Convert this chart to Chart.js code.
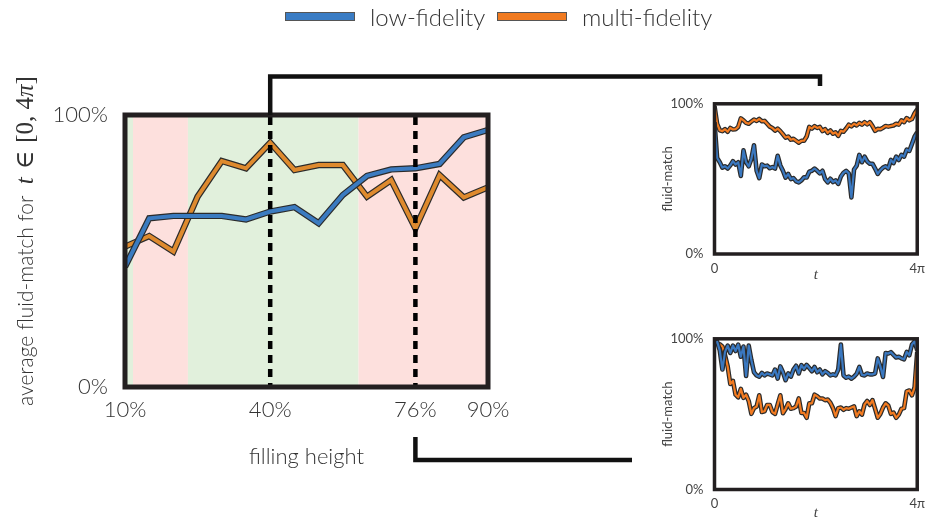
<!DOCTYPE html>
<html>
<head>
<meta charset="utf-8">
<title>fluid-match vs filling height</title>
<script src="https://cdn.jsdelivr.net/npm/chart.js@4.4.0/dist/chart.umd.min.js"></script>
<style>
  body { margin: 0; background: #fff; }
  #figure { position: relative; width: 932px; height: 523px; overflow: hidden; }
  #figure canvas { position: absolute; }
  #mainChart { left: 0; top: 0; }
  #topInset { left: 640px; top: 85px; }
  #bottomInset { left: 640px; top: 320px; }
  .legend-item { position: absolute; top: 0; height: 32px; display: flex; align-items: center;
    font-family: Lato, "Open Sans", sans-serif; font-weight: 300; font-size: 24px; color: #333; }
  .legend-item .swatch { width: 68px; height: 7px; border: 1px solid #555; margin-right: 15px; }
</style>
</head>
<body>
<div id="figure">
  <canvas id="mainChart" width="932" height="523"></canvas>
  <canvas id="topInset" width="292" height="200"></canvas>
  <canvas id="bottomInset" width="292" height="203"></canvas>
  <div id="legend"></div>
</div>

<script>
// average fluid-match per filling height (16 heights, index 0 = 10%)
const lowFidAvg   = [44.2, 62.0, 62.9, 62.9, 62.9, 61.6, 64.5, 66.1, 60.2, 70.6, 77.6, 80.0, 80.4, 82.0, 91.8, 94.5];
const multiFidAvg = [51.6, 55.5, 49.8, 70.0, 83.1, 80.4, 89.8, 79.8, 81.6, 81.6, 70.0, 76.1, 58.3, 77.9, 69.7, 73.4];
const heightTickPos    = [0, 6, 12, 15];
const heightTickLabels = ['10%', '40%', '76%', '90%'];
const markedHeights    = [6, 12];   // 40% and 76%, shown in the insets

// good / bad regions along the height axis
const bandEdges = [0, 0.33, 2.6, 9.65, 15];
const bandGood  = [true, false, true, false];

// fluid-match over t in [0, 4pi] at 40% filling height
const topLow = [
  87.8, 63.9, 61.1, 57.5, 58.4, 56.9, 59.0, 61.8, 59.6, 61.1,
  52.0, 69.0, 61.1, 58.4, 63.3, 72.4, 55.4, 50.5, 59.6, 58.4,
  58.8, 57.1, 57.9, 56.9, 65.4, 59.0, 55.4, 50.9, 53.3, 49.9,
  50.5, 48.4, 47.7, 49.0, 51.1, 50.9, 54.8, 55.4, 56.9, 55.4,
  53.7, 55.4, 49.9, 47.7, 50.1, 47.9, 49.0, 46.7, 51.6, 54.1,
  55.4, 53.7, 37.7, 56.2, 58.8, 66.0, 61.1, 64.8, 61.6, 60.1,
  60.1, 56.9, 53.3, 55.8, 57.5, 58.4, 56.9, 62.6, 60.5, 64.8,
  62.6, 66.0, 64.8, 69.5, 68.6, 73.3, 78.2, 81.0
];
const topMulti = [
  98.4, 86.7, 82.4, 81.8, 83.1, 81.4, 83.9, 82.9, 83.1, 84.6,
  90.3, 89.0, 87.3, 86.7, 88.2, 89.5, 88.6, 89.9, 88.4, 88.6,
  86.7, 84.8, 83.9, 82.2, 83.5, 81.8, 79.7, 77.5, 78.2, 76.1,
  76.7, 75.4, 74.1, 75.4, 75.4, 78.2, 84.6, 83.5, 85.2, 83.9,
  84.6, 81.8, 83.1, 80.7, 82.2, 80.1, 81.0, 78.6, 82.0, 81.4,
  83.5, 86.1, 85.0, 86.7, 85.6, 87.3, 86.1, 87.8, 86.3, 87.8,
  85.2, 82.0, 83.3, 83.1, 84.1, 85.2, 84.8, 85.2, 85.6, 86.7,
  86.1, 89.0, 87.8, 90.5, 89.0, 89.9, 93.7, 96.3
];

// fluid-match over t in [0, 4pi] at 76% filling height
const bottomLow = [
  97.4, 98.1, 92.3, 79.6, 91.3, 95.5, 90.6, 95.5, 91.9, 96.2,
  88.1, 94.9, 75.3, 95.5, 85.9, 77.8, 75.7, 74.9, 77.4, 75.7,
  77.0, 76.4, 75.7, 79.6, 73.6, 81.7, 77.8, 72.5, 77.0, 74.9,
  79.6, 82.1, 77.0, 82.5, 80.0, 82.7, 80.6, 78.5, 81.3, 77.8,
  79.6, 76.4, 78.5, 77.4, 75.7, 76.4, 75.7, 79.6, 96.2, 75.7,
  74.2, 74.9, 73.6, 74.9, 76.8, 81.3, 76.1, 75.7, 77.0, 76.4,
  76.4, 77.0, 87.0, 81.7, 74.7, 90.6, 90.2, 91.1, 89.3, 87.6,
  88.1, 87.0, 86.4, 91.3, 89.1, 96.2, 98.3, 92.3
];
const bottomMulti = [
  97.0, 96.6, 96.4, 94.9, 89.1, 81.7, 70.0, 72.1, 62.9, 61.2,
  66.8, 60.8, 62.9, 58.7, 50.2, 54.0, 55.1, 62.5, 51.4, 51.9,
  56.1, 56.1, 51.4, 50.2, 56.5, 62.5, 50.6, 53.4, 57.2, 53.6,
  54.0, 55.1, 60.4, 50.8, 50.8, 47.6, 57.2, 57.2, 62.9, 61.9,
  60.4, 60.4, 59.3, 59.7, 57.6, 54.0, 48.7, 54.0, 54.4, 52.9,
  54.0, 53.6, 54.4, 55.1, 48.7, 51.9, 49.7, 56.5, 58.7, 56.1,
  59.3, 53.6, 47.6, 50.2, 54.4, 57.2, 55.7, 50.2, 51.0, 47.6,
  49.7, 53.6, 54.0, 65.1, 65.7, 62.5, 67.8, 91.3
];
const timeTickLabels = ['0', '4π'];

const seriesNames = ['low-fidelity', 'multi-fidelity'];
const legendColors = ['#3a7cc4', '#f07a20'];

const ink = '#333';
const frameColor = '#231f20';
const sansFont = 'Lato, "Open Sans", sans-serif';

function toPoints(values) {
  return values.map((v, i) => ({ x: i, y: v }));
}

// a coloured line sitting on a slightly wider dark line;
// lower order is painted later, so layer = 0 ends up on top
function outlinedSeries(values, color, width, join, layer) {
  return [
    { data: toPoints(values), borderColor: '#2b2b2b', borderWidth: width + 2.4, borderJoinStyle: join,
      pointRadius: 0, order: layer * 2 + 1 },
    { data: toPoints(values), borderColor: color, borderWidth: width, borderJoinStyle: join,
      pointRadius: 0, order: layer * 2 }
  ];
}

function drawFrame(chart, width) {
  const { ctx, chartArea: a } = chart;
  ctx.save();
  ctx.strokeStyle = frameColor;
  ctx.lineWidth = width;
  ctx.strokeRect(a.left, a.top, a.right - a.left, a.bottom - a.top);
  ctx.restore();
}

function drawYTitle(ctx, cx, cy) {
  const parts = [
    { text: 'average fluid-match for  ', font: `300 21px ${sansFont}` },
    { text: 't', font: 'italic 25px "Liberation Serif"' },
    { text: ' ∈ ', font: '25px "DejaVu Serif"' },
    { text: '[0, 4', font: '25px "Liberation Serif"' },
    { text: 'π', font: 'italic 25px "Liberation Serif"' },
    { text: ']', font: '25px "Liberation Serif"' }
  ];
  ctx.save();
  ctx.translate(cx, cy);
  ctx.rotate(-Math.PI / 2);
  ctx.fillStyle = ink;
  ctx.textBaseline = 'alphabetic';
  let total = 0;
  parts.forEach(p => { ctx.font = p.font; p.w = ctx.measureText(p.text).width; total += p.w; });
  let x = -total / 2;
  parts.forEach(p => { ctx.font = p.font; ctx.fillText(p.text, x, 0); x += p.w; });
  ctx.restore();
}

const mainDecor = {
  id: 'mainDecor',
  beforeDatasetsDraw(chart) {
    const { ctx, chartArea: a, scales: { x } } = chart;
    ctx.save();
    for (let i = 0; i < bandGood.length; i++) {
      const x0 = x.getPixelForValue(bandEdges[i]);
      const x1 = x.getPixelForValue(bandEdges[i + 1]);
      ctx.fillStyle = bandGood[i] ? '#e1f0dc' : '#fde0dd';
      ctx.fillRect(x0, a.top, x1 - x0, a.bottom - a.top);
    }
    ctx.restore();
  },
  afterDatasetsDraw(chart) {
    const { ctx, chartArea: a, scales: { x } } = chart;
    ctx.save();
    ctx.strokeStyle = '#000';
    ctx.lineWidth = 4.5;
    ctx.setLineDash([8, 6]);
    markedHeights.forEach(h => {
      const px = x.getPixelForValue(h);
      ctx.beginPath();
      ctx.moveTo(px, a.top + 2);
      ctx.lineTo(px, a.bottom);
      ctx.stroke();
    });
    ctx.restore();
    drawFrame(chart, 5);
  },
  afterDraw(chart) {
    const { ctx, chartArea: a, scales: { x } } = chart;
    const x40 = x.getPixelForValue(markedHeights[0]);
    const x76 = x.getPixelForValue(markedHeights[1]);
    ctx.save();
    ctx.strokeStyle = '#111';
    ctx.lineWidth = 4.5;
    ctx.lineJoin = 'miter';
    // link to the 40% inset
    ctx.beginPath();
    ctx.moveTo(x40, a.top);
    ctx.lineTo(x40, 76.5);
    ctx.lineTo(820, 76.5);
    ctx.lineTo(820, 86);
    ctx.stroke();
    // link to the 76% inset
    ctx.beginPath();
    ctx.moveTo(x76, 437);
    ctx.lineTo(x76, 460);
    ctx.lineTo(632, 460);
    ctx.stroke();
    ctx.restore();
    drawYTitle(ctx, 33, 241);
  }
};

new Chart(document.getElementById('mainChart'), {
  type: 'line',
  data: {
    datasets: [
      ...outlinedSeries(lowFidAvg, '#3b7bc0', 4, 'miter', 0),
      ...outlinedSeries(multiFidAvg, '#de8a2e', 4, 'miter', 1)
    ]
  },
  options: {
    responsive: false,
    animation: false,
    layout: { padding: { top: 115, right: 444, left: 0, bottom: 0 } },
    plugins: { legend: { display: false }, tooltip: { enabled: false } },
    scales: {
      x: {
        type: 'linear', min: 0, max: 15,
        grid: { display: false, drawTicks: false }, border: { display: false },
        afterBuildTicks: axis => { axis.ticks = heightTickPos.map(v => ({ value: v })); },
        afterFit: axis => { axis.height = 136; },
        ticks: {
          autoSkip: false, maxRotation: 0, padding: 10, color: ink,
          font: { family: sansFont, size: 22, weight: 300 },
          callback: v => heightTickLabels[heightTickPos.indexOf(v)]
        },
        title: {
          display: true, text: 'filling height', color: ink,
          font: { family: sansFont, size: 22, weight: 300 },
          padding: { top: 4, bottom: 53 }
        }
      },
      y: {
        min: 0, max: 100,
        grid: { display: false, drawTicks: false }, border: { display: false },
        afterBuildTicks: axis => { axis.ticks = [{ value: 0 }, { value: 100 }]; },
        afterFit: axis => { axis.width = 125; },
        ticks: {
          padding: 17, color: ink,
          font: { family: sansFont, size: 22, weight: 300 },
          callback: v => v + '%'
        }
      }
    }
  },
  plugins: [mainDecor]
});

function buildInset(id, lowVals, multiVals, axisHeight) {
  const last = lowVals.length - 1;
  return new Chart(document.getElementById(id), {
    type: 'line',
    data: {
      datasets: [
        ...outlinedSeries(lowVals, '#3a78c0', 2.2, 'round', 0),
        ...outlinedSeries(multiVals, '#f27b21', 2.2, 'round', 1)
      ]
    },
    options: {
      responsive: false,
      animation: false,
      layout: { padding: { top: 12.5, right: 11, left: 0, bottom: 0 } },
      plugins: { legend: { display: false }, tooltip: { enabled: false } },
      scales: {
        x: {
          type: 'linear', min: 0, max: last,
          grid: { display: false, drawTicks: false }, border: { display: false },
          afterBuildTicks: axis => { axis.ticks = [{ value: 0 }, { value: last }]; },
          afterFit: axis => { axis.height = axisHeight; },
          ticks: {
            autoSkip: false, maxRotation: 0, padding: 7, color: '#444',
            font: { family: sansFont, size: 13 },
            callback: v => timeTickLabels[v === 0 ? 0 : 1]
          },
          title: {
            display: true, text: 't', color: '#444',
            font: { family: 'Liberation Serif', size: 15, style: 'italic' },
            padding: { top: 0, bottom: 1 }
          }
        },
        y: {
          min: 0, max: 100,
          grid: { display: false, drawTicks: false }, border: { display: false },
          afterBuildTicks: axis => { axis.ticks = [{ value: 0 }, { value: 100 }]; },
          afterFit: axis => { axis.width = 74.5; },
          ticks: {
            padding: 11, color: '#444',
            font: { family: sansFont, size: 13 },
            callback: v => v + '%'
          },
          title: {
            display: true, text: 'fluid-match', color: '#444',
            font: { family: sansFont, size: 13 },
            padding: { top: 20, bottom: 0 }
          }
        }
      }
    },
    plugins: [{ id: 'insetFrame', afterDatasetsDraw: chart => drawFrame(chart, 3.5) }]
  });
}

buildInset('topInset', topLow, topMulti, 31);
buildInset('bottomInset', bottomLow, bottomMulti, 33.5);

// legend across the top of the figure
const legendLefts = [285, 497];
document.getElementById('legend').innerHTML = seriesNames.map((name, i) => `
  <div class="legend-item" style="left:${legendLefts[i]}px">
    <span class="swatch" style="background:${legendColors[i]}"></span>${name}
  </div>`).join('');
</script>
</body>
</html>
